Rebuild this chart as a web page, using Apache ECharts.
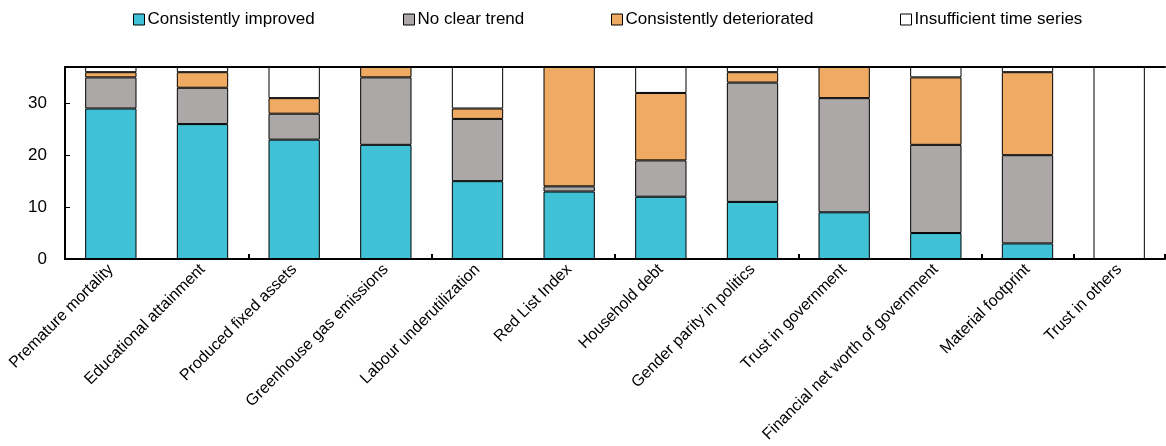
<!DOCTYPE html>
<html>
<head>
<meta charset="utf-8">
<script src="https://cdn.jsdelivr.net/npm/echarts@6/dist/echarts.min.js"></script>
<style>
html,body{margin:0;padding:0;background:#fff;}
#chart{width:1166px;height:446px;}
</style>
</head>
<body>
<div id="chart"></div>
<script>
const categories = ["Premature mortality","Educational attainment","Produced fixed assets","Greenhouse gas emissions","Labour underutilization","Red List Index","Household debt","Gender parity in politics","Trust in government","Financial net worth of government","Material footprint","Trust in others"];
const improved      = [29,26,23,22,15,13,12,11, 9, 5, 3, 0];
const noClearTrend  = [ 6, 7, 5,13,12, 1, 7,23,22,17,17, 0];
const deteriorated  = [ 1, 3, 3, 2, 2,23,13, 2, 6,13,16, 0];
const insufficient  = [ 1, 1, 6, 0, 8, 0, 5, 1, 0, 2, 1,37];
const seriesNames = ["Consistently improved","No clear trend","Consistently deteriorated","Insufficient time series"];
const yTicks = [0,10,20,30];

const colors = ["#41C1D6","#ABA8A7","#EFAA63","#FFFFFF"];
const seriesData = [improved, noClearTrend, deteriorated, insufficient];
const FONT = "'Liberation Sans', Arial, sans-serif";
const NARROW = "'Liberation Sans Narrow', 'Arial Narrow', 'Liberation Sans', Arial, sans-serif";

const legendLefts = [133, 403, 611, 900];
const chart = echarts.init(document.getElementById('chart'), null, {renderer:'canvas'});
chart.setOption({
  animation: false,
  backgroundColor: '#fff',
  legend: seriesNames.map((n, i) => ({
    data: [n],
    left: legendLefts[i],
    top: 11,
    itemWidth: 11,
    itemHeight: 11,
    itemGap: 0,
    icon: 'rect',
    padding: 0,
    textStyle: {fontFamily: FONT, fontSize: 17, color: '#000', padding: [0,0,0,-2]},
    itemStyle: {borderColor: '#000', borderWidth: 1}
  })),
  grid: {left: 65, right: 1, top: 67, bottom: 187, containLabel: false},
  xAxis: [{
    type: 'category',
    data: categories,
    position: 'bottom',
    axisLine: {show: true, lineStyle: {color: '#000', width: 2}},
    axisTick: {show: true, inside: true, length: 5, interval: 1, lineStyle: {color: '#000', width: 2}},
    axisLabel: {rotate: 45, interval: 0, fontFamily: FONT, fontSize: 16, color: '#000', margin: 8}
  }, {
    type: 'category',
    data: categories,
    position: 'top',
    axisLine: {show: true, lineStyle: {color: '#000', width: 2}},
    axisTick: {show: false},
    axisLabel: {show: false}
  }],
  yAxis: {
    type: 'value',
    min: 0, max: 37, interval: 10,
    splitLine: {show: false},
    axisLine: {show: true, lineStyle: {color: '#000', width: 2}},
    axisTick: {show: true, inside: true, length: 5, lineStyle: {color: '#000', width: 1}},
    axisLabel: {
      fontFamily: NARROW, fontSize: 17, color: '#000', margin: 18,
      formatter: v => (yTicks.indexOf(v) >= 0 ? String(v) : '')
    }
  },
  series: seriesNames.map((n, i) => ({
    name: n,
    type: 'bar',
    stack: 'total',
    barWidth: '56%',
    data: seriesData[i],
    itemStyle: {color: colors[i], borderColor: '#000', borderWidth: 1},
    emphasis: {disabled: true}
  }))
});
</script>
</body>
</html>
